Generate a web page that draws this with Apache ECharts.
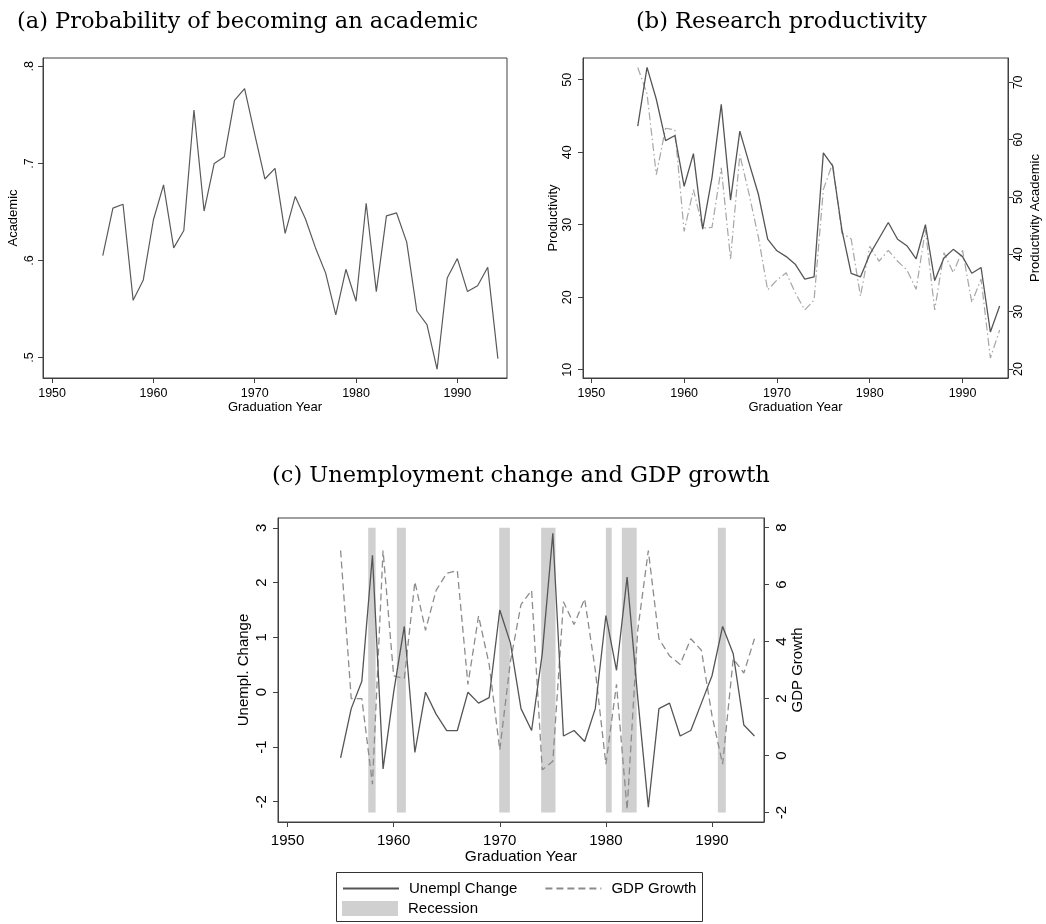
<!DOCTYPE html>
<html><head><meta charset="utf-8">
<script src="https://cdn.jsdelivr.net/npm/echarts@6/dist/echarts.min.js"></script>
<style>html,body{margin:0;padding:0;background:#fff}#c{width:1046px;height:924px}</style>
</head><body><div id="c"></div>
<script>
// ---------------- data ----------------
const years = [1955,1956,1957,1958,1959,1960,1961,1962,1963,1964,1965,1966,1967,1968,1969,1970,1971,1972,1973,1974,1975,1976,1977,1978,1979,1980,1981,1982,1983,1984,1985,1986,1987,1988,1989,1990,1991,1992,1993,1994];
const academic = [0.605,0.654,0.658,0.559,0.580,0.642,0.678,0.613,0.631,0.755,0.651,0.700,0.707,0.765,0.777,0.730,0.684,0.695,0.628,0.666,0.643,0.613,0.587,0.544,0.591,0.558,0.659,0.568,0.646,0.649,0.619,0.548,0.534,0.488,0.582,0.602,0.568,0.574,0.593,0.499];
const productivity = [43.6,51.7,47.3,41.6,42.3,35.3,39.8,29.4,36.5,46.6,33.4,42.9,38.5,34.2,28.0,26.4,25.6,24.5,22.5,22.8,39.9,38.1,29.3,23.3,22.8,25.9,28.1,30.3,28.0,27.1,25.3,30.0,22.3,25.4,26.6,25.6,23.3,24.1,15.2,18.8];
const productivityAcademic = [72.6,68.0,53.9,62.0,61.7,44.0,51.3,44.6,44.7,55.1,39.2,57.4,50.5,43.0,33.8,35.5,36.8,33.2,30.3,32.0,51.3,55.9,43.7,42.7,32.7,41.4,38.8,40.7,38.8,37.3,33.9,44.3,30.3,40.3,36.8,40.7,31.6,35.7,21.9,26.8];
const unemplChange = [-1.2,-0.3,0.2,2.5,-1.4,0.0,1.2,-1.1,0.0,-0.4,-0.7,-0.7,0.0,-0.2,-0.1,1.5,0.9,-0.3,-0.7,0.7,2.9,-0.8,-0.7,-0.9,-0.3,1.4,0.4,2.1,-0.1,-2.1,-0.3,-0.2,-0.8,-0.7,-0.2,0.3,1.2,0.7,-0.6,-0.8];
const gdpGrowth = [7.2,2.0,2.0,-1.0,7.2,2.8,2.7,6.1,4.4,5.8,6.4,6.5,2.5,4.9,3.2,0.2,3.3,5.3,5.8,-0.5,-0.2,5.4,4.6,5.5,3.0,-0.3,2.5,-1.9,4.4,7.2,4.1,3.5,3.2,4.1,3.7,1.4,-0.3,3.4,2.9,4.1];
const recessionStart = [1957.6,1960.3,1969.95,1973.9,1980.0,1981.5,1990.55];
const recessionEnd   = [1958.3,1961.15,1970.95,1975.25,1980.55,1982.9,1991.3];
const recessionLow = -2, recessionHigh = 8;
const xTicks = [1950,1960,1970,1980,1990];
const academicTicks = [0.5,0.6,0.7,0.8];
const productivityTicks = [10,20,30,40,50];
const prodAcademicTicks = [20,30,40,50,60,70];
const unemplTicks = [-2,-1,0,1,2,3];
const gdpTicks = [-2,0,2,4,6,8];

// ---------------- chart ----------------
const FF = "'Liberation Sans', Arial, sans-serif";
const SERIF = "'DejaVu Serif', serif";
const AX = '#404040';
const pairs = (ys) => years.map((y, i) => [y, ys[i]]);
const fmt = (v) => String(v).replace(/^0\./, '.').replace(/^-0\./, '-.');

function xAx(gridIndex, fs, margin, nameGap) {
  return {
    type: 'value', gridIndex, min: 1949.1, max: 1994.9,
    name: 'Graduation Year', nameLocation: 'middle', nameGap,
    nameTextStyle: {fontFamily: FF, fontSize: fs + 0.5, color: '#000'},
    axisLine: {show: true, onZero: false, lineStyle: {color: AX, width: 1}},
    axisTick: {show: true, length: 5, customValues: xTicks, lineStyle: {color: AX}},
    axisLabel: {customValues: xTicks, fontFamily: FF, fontSize: fs, color: '#000', margin, formatter: (v) => String(v)},
    splitLine: {show: false}
  };
}
function yAx(gridIndex, position, min, max, ticks, name, fs, nfs, margin, nameGap) {
  return {
    type: 'value', gridIndex, position, min, max,
    name, nameLocation: 'middle', nameGap,
    nameTextStyle: {fontFamily: FF, fontSize: nfs, color: '#000'},
    axisLine: {show: true, onZero: false, lineStyle: {color: AX, width: 1}},
    axisTick: {show: true, length: 5, customValues: ticks, lineStyle: {color: AX}},
    axisLabel: {customValues: ticks, rotate: 90, fontFamily: FF, fontSize: fs, color: '#000', margin, formatter: fmt},
    splitLine: {show: false}
  };
}
const gridStyle = {show: true, borderColor: AX, borderWidth: 1, backgroundColor: '#fff', containLabel: false};
const titleStyle = {fontFamily: SERIF, fontWeight: 'normal', fontSize: 22.5, color: '#000'};
const legendText = {fontFamily: FF, fontSize: 15, color: '#000', padding: [0, 0, 0, 5]};

const option = {
  animation: false,
  backgroundColor: '#fff',
  title: [
    {text: '(a) Probability of becoming an academic', left: 12, top: 6, textStyle: titleStyle},
    {text: '(b) Research productivity', left: 631, top: 6, textStyle: titleStyle},
    {text: '(c) Unemployment change and GDP growth', left: 267, top: 460, textStyle: titleStyle}
  ],
  grid: [
    Object.assign({left: 43, top: 58, width: 464, height: 320}, gridStyle),
    Object.assign({left: 583, top: 58, width: 425, height: 320}, gridStyle),
    Object.assign({left: 278, top: 518, width: 486, height: 304}, gridStyle)
  ],
  xAxis: [
    xAx(0, 12.5, 9, 22),
    xAx(1, 12.5, 9, 22),
    xAx(2, 15, 11, 25)
  ],
  yAxis: [
    yAx(0, 'left', 0.479, 0.8086, academicTicks, 'Academic', 12.5, 13, 7, 23),
    yAx(1, 'left', 8.86, 52.99, productivityTicks, 'Productivity', 12.5, 13, 8.5, 23),
    yAx(1, 'right', 18.43, 74.26, prodAcademicTicks, 'Productivity Academic', 12.5, 13, 4, 21),
    yAx(2, 'left', -2.37, 3.18, unemplTicks, 'Unempl. Change', 15, 15, 8.5, 27),
    yAx(2, 'right', -2.33, 8.34, gdpTicks, 'GDP Growth', 15, 15, 10, 26)
  ],
  legend: [
    {data: ['Unempl Change', 'GDP Growth'], left: 342, top: 881, padding: 0, itemWidth: 56, itemHeight: 14, itemGap: 27,
     itemStyle: {opacity: 0}, textStyle: legendText, selectedMode: false},
    {data: [{name: 'Recession', icon: 'rect', itemStyle: {color: '#d0d0d0'}}], left: 342, top: 901, padding: 0, itemWidth: 56, itemHeight: 15,
     textStyle: legendText, selectedMode: false}
  ],
  graphic: [
    {type: 'rect', shape: {x: 336.5, y: 872.5, width: 366, height: 49}, style: {fill: 'none', stroke: '#333', lineWidth: 1}, silent: true}
  ],
  series: [
    {name: 'Academic', type: 'line', xAxisIndex: 0, yAxisIndex: 0, data: pairs(academic), symbol: 'none', z: 3,
     lineStyle: {color: '#5a5a5a', width: 1.2}, itemStyle: {color: '#5a5a5a'}},
    {name: 'Productivity', type: 'line', xAxisIndex: 1, yAxisIndex: 1, data: pairs(productivity), symbol: 'none', z: 4,
     lineStyle: {color: '#555', width: 1.3}, itemStyle: {color: '#555'}},
    {name: 'Productivity Academic', type: 'line', xAxisIndex: 1, yAxisIndex: 2, data: pairs(productivityAcademic), symbol: 'none', z: 3,
     lineStyle: {color: '#a6a6a6', width: 1.2, type: [8, 3, 1.5, 3]}, itemStyle: {color: '#a6a6a6'}},
    {name: 'Recession', type: 'line', xAxisIndex: 2, yAxisIndex: 4, data: [], symbol: 'none', z: 1,
     itemStyle: {color: '#d0d0d0'}, lineStyle: {color: '#d0d0d0'},
     markArea: {silent: true, itemStyle: {color: '#d0d0d0', opacity: 1},
       data: recessionStart.map((s, i) => [{xAxis: s, yAxis: recessionLow}, {xAxis: recessionEnd[i], yAxis: recessionHigh}])}},
    {name: 'Unempl Change', type: 'line', xAxisIndex: 2, yAxisIndex: 3, data: pairs(unemplChange), symbol: 'none', z: 4,
     lineStyle: {color: '#555', width: 1.3}, itemStyle: {color: '#555'}},
    {name: 'GDP Growth', type: 'line', xAxisIndex: 2, yAxisIndex: 4, data: pairs(gdpGrowth), symbol: 'none', z: 3,
     lineStyle: {color: '#8c8c8c', width: 1.3, type: [7, 4]}, itemStyle: {color: '#8c8c8c'}}
  ]
};
const chart = echarts.init(document.getElementById('c'), null, {renderer: 'canvas'});
chart.setOption(option);
</script>
</body></html>
